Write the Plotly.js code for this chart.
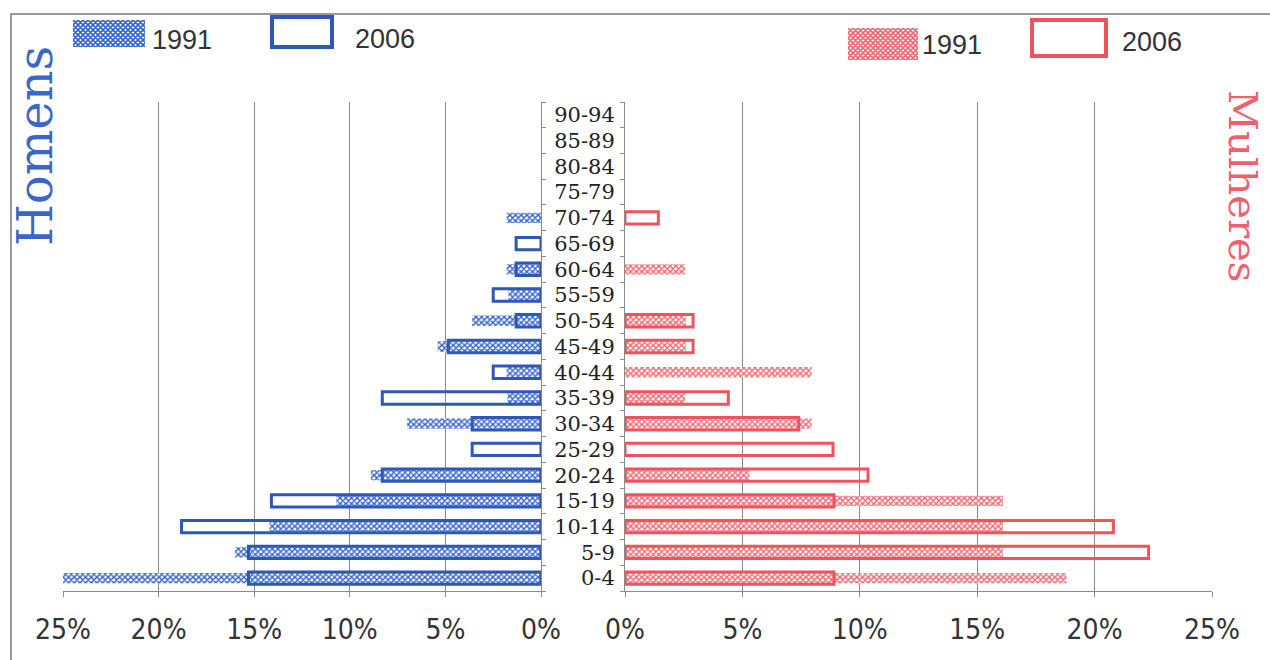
<!DOCTYPE html>
<html>
<head>
<meta charset="utf-8">
<script src="https://cdn.plot.ly/plotly-3.0.1.min.js"></script>
<style>html,body{margin:0;padding:0;background:#fff;}#chart{width:1270px;height:660px;}</style>
</head>
<body>
<div id="chart"></div>
<script>
// ---- data (percent of population) ----
const ageGroups = ['0-4','5-9','10-14','15-19','20-24','25-29','30-34','35-39','40-44','45-49',
                   '50-54','55-59','60-64','65-69','70-74','75-79','80-84','85-89','90-94'];
const men1991   = [25.0, 16.0, 14.2, 10.7, 8.9, null, 7.0, 1.75, 1.8, 5.4, 3.6, 1.7, 1.8, null, 1.8, null, null, null, null];
const men2006   = [15.3, 15.3, 18.8, 14.1, 8.3, 3.6, 3.6, 8.3, 2.5, 4.85, 1.3, 2.5, 1.3, 1.3, null, null, null, null, null];
const women1991 = [18.8, 16.1, 16.1, 16.1, 5.3, null, 7.95, 2.56, 7.95, 2.6, 2.6, null, 2.56, null, null, null, null, null, null];
const women2006 = [8.9, 22.3, 20.8, 8.9, 10.35, 8.86, 7.4, 4.4, null, 2.9, 2.9, null, null, null, 1.42, null, null, null, null];
const xTickVals = [0, 5, 10, 15, 20, 25];
const xTickText = ['0%', '5%', '10%', '15%', '20%', '25%'];
const yearLabels = ['1991', '2006'];
const sideTitles = ['Homens', 'Mulheres'];

const BLUE = '#2f57b8', BLUE_H = '#3563cc';
const RED = '#f0525e', RED_H = '#f26671';
const W = 1270, H = 660;
const px = v => v / W, py = v => 1 - v / H;

function hatched(fg) {
  return {color: '#ffffff', line: {width: 0},
          pattern: {shape: 'x', fgcolor: fg, bgcolor: '#ffffff', size: 4, solidity: 0.6, fillmode: 'replace'}};
}
function outlined(c) {
  return {color: 'rgba(0,0,0,0)', line: {color: c, width: 3}};
}

const traces = [
  {type: 'bar', orientation: 'h', y: ageGroups, x: men1991, xaxis: 'x', yaxis: 'y', width: 0.4,
   marker: hatched(BLUE_H), hoverinfo: 'x+y', name: yearLabels[0]},
  {type: 'bar', orientation: 'h', y: ageGroups, x: men2006, xaxis: 'x', yaxis: 'y', width: 0.48,
   marker: outlined(BLUE), hoverinfo: 'x+y', name: yearLabels[1]},
  {type: 'bar', orientation: 'h', y: ageGroups, x: women1991, xaxis: 'x2', yaxis: 'y2', width: 0.4,
   marker: hatched(RED_H), hoverinfo: 'x+y', name: yearLabels[0]},
  {type: 'bar', orientation: 'h', y: ageGroups, x: women2006, xaxis: 'x2', yaxis: 'y2', width: 0.48,
   marker: outlined(RED), hoverinfo: 'x+y', name: yearLabels[1]}
];

const tickFont = {family: '"Liberation Sans Narrow", "DejaVu Sans Condensed", "Liberation Sans", sans-serif', size: 28, color: '#333'};
const xCommon = {tickvals: xTickVals, ticktext: xTickText, showgrid: true, gridcolor: '#8a8a8a', gridwidth: 1,
  zeroline: false, showline: true, linecolor: '#8a8a8a', linewidth: 1, ticks: 'outside', ticklen: 5,
  tickcolor: '#8a8a8a', tickfont: tickFont, ticklabelstandoff: 8, fixedrange: true};
const yCommon = {type: 'category', categoryorder: 'array', categoryarray: ageGroups, range: [-0.5, 18.5],
  showgrid: false, zeroline: false, showline: true, linecolor: '#8a8a8a', linewidth: 1,
  ticks: 'outside', ticklen: 4, tickcolor: '#8a8a8a', tickson: 'boundaries', fixedrange: true,
  domain: [py(591), py(102)]};

const hatchSvg = (c, w, h) => 'data:image/svg+xml;charset=utf-8,' + encodeURIComponent(
  `<svg xmlns="http://www.w3.org/2000/svg" width="${w}" height="${h}"><defs><pattern id="p" width="5" height="5" patternUnits="userSpaceOnUse"><path d="M0,0L5,5M5,0L0,5M-1,4L1,6M4,-1L6,1" stroke="${c}" stroke-width="1.6"/></pattern></defs><rect width="${w}" height="${h}" fill="url(#p)"/></svg>`);

const legFont = {family: '"Liberation Sans", Arial, sans-serif', size: 27, color: '#333'};

const layout = {
  width: W, height: H, margin: {l: 0, r: 0, t: 0, b: 0},
  paper_bgcolor: '#ffffff', plot_bgcolor: 'rgba(0,0,0,0)',
  barmode: 'overlay', showlegend: false,
  xaxis: Object.assign({}, xCommon, {domain: [px(63), px(541)], range: [25, 0], anchor: 'y'}),
  yaxis: Object.assign({}, yCommon, {anchor: 'x', side: 'right', showticklabels: false}),
  xaxis2: Object.assign({}, xCommon, {domain: [px(625), px(1212)], range: [0, 25], anchor: 'y2'}),
  yaxis2: Object.assign({}, yCommon, {anchor: 'x2', side: 'left', showticklabels: true,
    tickfont: {family: '"DejaVu Serif", "Liberation Serif", serif', size: 21, color: '#222'}, ticklabelstandoff: 5}),
  shapes: [
    {type: 'rect', xref: 'paper', yref: 'paper', x0: px(11), x1: px(1300), y0: py(14), y1: py(700),
     line: {color: '#777', width: 1.5}, fillcolor: 'rgba(0,0,0,0)', layer: 'below'},
    {type: 'rect', xref: 'paper', yref: 'paper', x0: px(272), x1: px(332), y0: py(17), y1: py(47),
     line: {color: BLUE, width: 4}, fillcolor: 'rgba(0,0,0,0)'},
    {type: 'rect', xref: 'paper', yref: 'paper', x0: px(1032), x1: px(1106), y0: py(20), y1: py(56),
     line: {color: RED, width: 4}, fillcolor: 'rgba(0,0,0,0)'}
  ],
  images: [
    {source: hatchSvg(BLUE_H, 72, 27), xref: 'paper', yref: 'paper', x: px(73), y: py(20),
     sizex: px(72) - px(0), sizey: 27 / H, xanchor: 'left', yanchor: 'top', sizing: 'stretch', layer: 'above'},
    {source: hatchSvg(RED_H, 70, 32), xref: 'paper', yref: 'paper', x: px(848), y: py(28),
     sizex: px(70) - px(0), sizey: 32 / H, xanchor: 'left', yanchor: 'top', sizing: 'stretch', layer: 'above'}
  ],
  annotations: [
    {text: yearLabels[0], xref: 'paper', yref: 'paper', x: px(150), y: py(40), xanchor: 'left', yanchor: 'middle', showarrow: false, font: legFont},
    {text: yearLabels[1], xref: 'paper', yref: 'paper', x: px(353), y: py(39), xanchor: 'left', yanchor: 'middle', showarrow: false, font: legFont},
    {text: yearLabels[0], xref: 'paper', yref: 'paper', x: px(920), y: py(45), xanchor: 'left', yanchor: 'middle', showarrow: false, font: legFont},
    {text: yearLabels[1], xref: 'paper', yref: 'paper', x: px(1120), y: py(42), xanchor: 'left', yanchor: 'middle', showarrow: false, font: legFont},
    {text: sideTitles[0], xref: 'paper', yref: 'paper', x: px(35), y: py(146), xanchor: 'center', yanchor: 'middle',
     textangle: -90, showarrow: false, font: {family: '"DejaVu Serif", "Liberation Serif", serif', size: 48, color: '#3a66c9'}},
    {text: sideTitles[1], xref: 'paper', yref: 'paper', x: px(1243), y: py(186), xanchor: 'center', yanchor: 'middle',
     textangle: 90, showarrow: false, font: {family: '"DejaVu Serif", "Liberation Serif", serif', size: 40, color: '#f0606b'}}
  ]
};

Plotly.newPlot('chart', traces, layout, {displayModeBar: false, staticPlot: true});
</script>
</body>
</html>
